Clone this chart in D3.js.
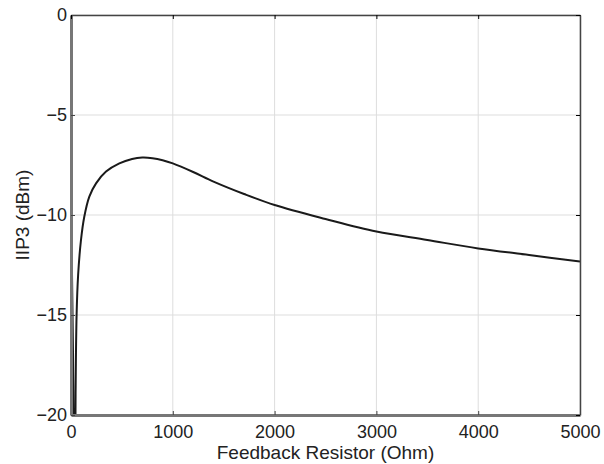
<!DOCTYPE html>
<html>
<head>
<meta charset="utf-8">
<script src="https://cdn.jsdelivr.net/npm/d3@7"></script>
<style>
  body { margin: 0; background: #fff; }
  text { font-family: "Liberation Sans", Arial, sans-serif; fill: #222; }
</style>
</head>
<body>
<script>
// feedback resistor (Ohm) vs IIP3 (dBm)
const resistor = [0, 10, 20, 30, 36, 45, 55, 70, 97, 130, 180, 246, 344, 475, 600,
  700, 800, 900, 1000, 1200, 1400, 1700, 2000, 2500, 3000, 3500, 4000, 4500, 5000]
const iip3 = [-10.5, -13, -17, -23, -30, -19, -15, -13, -11.3, -10.1, -9.08, -8.42, -7.83, -7.42, -7.2,
  -7.13, -7.16, -7.26, -7.42, -7.85, -8.33, -8.95, -9.5, -10.2, -10.83, -11.25, -11.67, -12.0, -12.33]

const xTicks = [0, 1000, 2000, 3000, 4000, 5000]
const yTicks = [-20, -15, -10, -5, 0]

const dims = { w: 604, h: 464, pl: 71, pr: 24, pt: 15, pb: 49 }

const svg = d3.select("body").append("svg")
  .attr("width", dims.w)
  .attr("height", dims.h)

const xScale = d3.scaleLinear().domain([0, 5000]).range([dims.pl, dims.w - dims.pr])
const yScale = d3.scaleLinear().domain([-20, 0]).range([dims.h - dims.pb, dims.pt])

// grid
svg.append("g")
  .selectAll("line")
  .data(xTicks)
  .enter()
  .append("line")
  .attr("x1", d => xScale(d)).attr("x2", d => xScale(d))
  .attr("y1", dims.pt).attr("y2", dims.h - dims.pb)
  .attr("stroke", "#ddd").attr("stroke-width", 1)

svg.append("g")
  .selectAll("line")
  .data(yTicks)
  .enter()
  .append("line")
  .attr("y1", d => yScale(d)).attr("y2", d => yScale(d))
  .attr("x1", dims.pl).attr("x2", dims.w - dims.pr)
  .attr("stroke", "#ddd").attr("stroke-width", 1)

svg.append("clipPath").attr("id", "clip")
  .append("rect")
  .attr("x", dims.pl).attr("y", dims.pt)
  .attr("width", dims.w - dims.pr - dims.pl)
  .attr("height", dims.h - dims.pb - dims.pt)

const line = d3.line()
  .x((d, i) => xScale(resistor[i]))
  .y(d => yScale(d))
  .curve(d3.curveCatmullRom.alpha(0.5))

svg.append("path")
  .datum(iip3)
  .attr("clip-path", "url(#clip)")
  .attr("d", line)
  .attr("fill", "none")
  .attr("stroke", "#1a1a1a")
  .attr("stroke-width", 2)

// axes, ticks inside
const xAxis = d3.axisBottom(xScale).tickValues(xTicks).tickFormat(d3.format("d"))
  .tickSizeInner(-4).tickSizeOuter(0).tickPadding(10)
const yAxis = d3.axisLeft(yScale).tickValues(yTicks)
  .tickSizeInner(-4).tickSizeOuter(0).tickPadding(4)

svg.append("g")
  .attr("transform", `translate(0, ${dims.h - dims.pb})`)
  .call(xAxis)
  .call(g => g.select(".domain").attr("stroke", "#777").attr("stroke-width", 3))
  .call(g => g.selectAll(".tick line").attr("stroke", "#444"))
  .call(g => g.selectAll("text").attr("font-size", 18).attr("fill", "#222")
    .attr("font-family", "Liberation Sans, Arial, sans-serif"))

svg.append("g")
  .attr("transform", `translate(${dims.pl}, 0)`)
  .call(yAxis)
  .call(g => g.select(".domain").attr("stroke", "#777").attr("stroke-width", 3))
  .call(g => g.selectAll(".tick line").attr("stroke", "#444"))
  .call(g => g.selectAll("text").attr("font-size", 18).attr("fill", "#222")
    .attr("font-family", "Liberation Sans, Arial, sans-serif"))

// top and right frame
svg.append("g")
  .attr("transform", `translate(0, ${dims.pt})`)
  .call(d3.axisTop(xScale).tickValues(xTicks).tickSizeInner(-4).tickSizeOuter(0).tickFormat(""))
  .call(g => g.select(".domain").attr("stroke", "#444").attr("stroke-width", 1.5))

svg.append("g")
  .attr("transform", `translate(${dims.w - dims.pr}, 0)`)
  .call(d3.axisRight(yScale).tickValues(yTicks).tickSizeInner(-4).tickSizeOuter(0).tickFormat(""))
  .call(g => g.select(".domain").attr("stroke", "#444").attr("stroke-width", 1.5))

svg.append("text")
  .attr("x", (dims.pl + dims.w - dims.pr) / 2)
  .attr("y", dims.h - 5)
  .attr("text-anchor", "middle")
  .attr("font-size", 19)
  .text("Feedback Resistor (Ohm)")

svg.append("text")
  .attr("transform", `translate(29, ${(dims.pt + dims.h - dims.pb) / 2}) rotate(-90)`)
  .attr("text-anchor", "middle")
  .attr("font-size", 19)
  .text("IIP3 (dBm)")
</script>
</body>
</html>
